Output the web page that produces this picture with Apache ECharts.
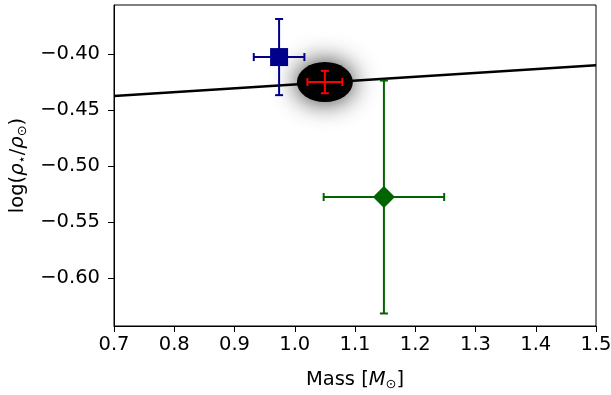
<!DOCTYPE html>
<html>
<head>
<meta charset="utf-8">
<script src="https://cdn.jsdelivr.net/npm/echarts@6/dist/echarts.min.js"></script>
<style>html,body{margin:0;padding:0;background:#fff}#c{width:611px;height:395px}</style>
</head>
<body>
<div id="c"></div>
<script>
// Data
const pointNames = ['blue', 'red', 'green'];
const masses = [0.974, 1.050, 1.148];
const logRho = [-0.4027, -0.425, -0.5277];
const massErr = [0.042, 0.029, 0.100];
const logRhoErr = [0.034, 0.010, 0.104];
const lineX = [0.7, 1.5];
const lineY = [-0.4375, -0.410];
const blobCenter = [1.050, -0.425];
const xTicks = [0.7, 0.8, 0.9, 1.0, 1.1, 1.2, 1.3, 1.4, 1.5];
const yTicks = [-0.60, -0.55, -0.50, -0.45, -0.40];

const colors = ['#00008b', '#ff0000', '#006400'];
const FONT = 'DejaVu Sans';
const FS = 19.5;

const chart = echarts.init(document.getElementById('c'), null, {renderer: 'canvas'});

function errItem(params, api) {
  const x = api.value(0), y = api.value(1), ex = api.value(2), ey = api.value(3);
  const c = colors[params.dataIndex];
  const pL = api.coord([x - ex, y]), pR = api.coord([x + ex, y]);
  const pT = api.coord([x, y + ey]), pB = api.coord([x, y - ey]);
  const cap = 4;
  const st = {stroke: c, lineWidth: 2};
  return {
    type: 'group',
    children: [
      {type: 'line', shape: {x1: pL[0], y1: pL[1], x2: pR[0], y2: pR[1]}, style: st},
      {type: 'line', shape: {x1: pT[0], y1: pT[1], x2: pB[0], y2: pB[1]}, style: st},
      {type: 'line', shape: {x1: pL[0], y1: pL[1] - cap, x2: pL[0], y2: pL[1] + cap}, style: st},
      {type: 'line', shape: {x1: pR[0], y1: pR[1] - cap, x2: pR[0], y2: pR[1] + cap}, style: st},
      {type: 'line', shape: {x1: pT[0] - cap, y1: pT[1], x2: pT[0] + cap, y2: pT[1]}, style: st},
      {type: 'line', shape: {x1: pB[0] - cap, y1: pB[1], x2: pB[0] + cap, y2: pB[1]}, style: st}
    ]
  };
}

const fmtY = v => (v < 0 ? '\u2212' : '') + Math.abs(v).toFixed(2);
const richName = {
  i: {fontFamily: FONT, fontStyle: 'italic', fontSize: FS, color: '#000'},
  s: {fontFamily: FONT, fontSize: 13, color: '#000', verticalAlign: 'bottom', padding: [9, 0, 0, 0]}
};

const option = {
  animation: false,
  backgroundColor: '#fff',
  grid: {left: 114, right: 15, top: 5, bottom: 69, show: true, borderColor: '#000', borderWidth: 1,
         backgroundColor: '#fff', outerBoundsMode: 'none', containLabel: false},
  xAxis: {
    type: 'value', min: 0.7, max: 1.5,
    splitLine: {show: false},
    axisLine: {show: true, lineStyle: {color: '#000', width: 1}},
    axisTick: {show: true, length: 6, lineStyle: {color: '#000', width: 1}, customValues: xTicks},
    axisLabel: {color: '#000', fontFamily: FONT, fontSize: FS, margin: 9, customValues: xTicks, formatter: v => v.toFixed(1), hideOverlap: false},
    name: 'Mass [{i|M}{s|⊙}]',
    nameLocation: 'middle', nameGap: 43,
    nameTextStyle: {color: '#000', fontFamily: FONT, fontSize: FS, rich: richName}
  },
  yAxis: {
    type: 'value', min: -0.6429, max: -0.3562,
    splitLine: {show: false},
    axisLine: {show: true, lineStyle: {color: '#000', width: 1}},
    axisTick: {show: true, length: 6, lineStyle: {color: '#000', width: 1}, customValues: yTicks},
    axisLabel: {color: '#000', fontFamily: FONT, fontSize: FS, margin: 14, customValues: yTicks, formatter: fmtY},
    name: 'log({i|ρ}{s|⋆}/{i|ρ}{s|⊙})',
    nameLocation: 'middle', nameGap: 82, nameRotate: 90,
    nameTextStyle: {color: '#000', fontFamily: FONT, fontSize: FS, rich: richName}
  },
  series: [
    {
      type: 'scatter', z: 1,
      data: [blobCenter],
      symbol: 'circle', symbolSize: [56, 40],
      itemStyle: {color: '#000', opacity: 1, shadowBlur: 26, shadowColor: 'rgba(0,0,0,0.85)'},
      silent: true
    },
    {
      type: 'line', z: 2,
      data: lineX.map((x, i) => [x, lineY[i]]),
      showSymbol: false, symbol: 'none',
      lineStyle: {color: '#000', width: 2.5},
      silent: true
    },
    {
      type: 'custom', z: 3,
      renderItem: errItem,
      data: masses.map((m, i) => [m, logRho[i], massErr[i], logRhoErr[i]]),
      silent: true
    },
    {
      type: 'scatter', z: 4,
      data: [[masses[0], logRho[0]]],
      symbol: 'rect', symbolSize: 18,
      itemStyle: {color: colors[0], opacity: 1}
    },
    {
      type: 'scatter', z: 4,
      data: [[masses[2], logRho[2]]],
      symbol: 'diamond', symbolSize: [22, 22],
      itemStyle: {color: colors[2], opacity: 1}
    }
  ]
};
chart.setOption(option);
</script>
</body>
</html>
